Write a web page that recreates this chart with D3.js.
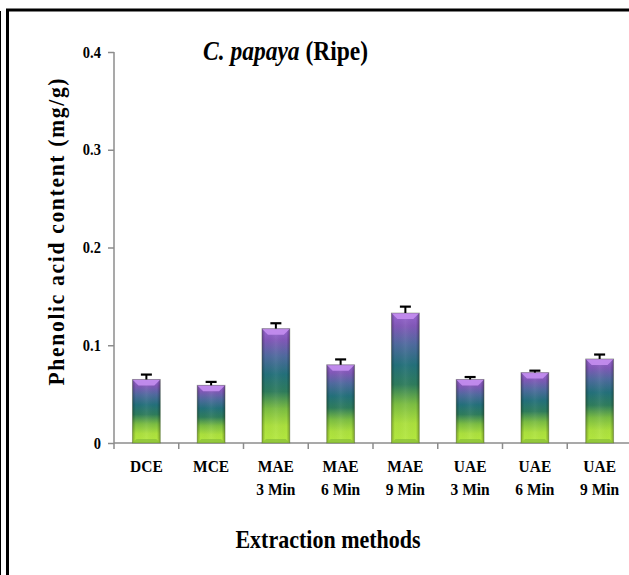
<!DOCTYPE html>
<html>
<head>
<meta charset="utf-8">
<script src="https://cdn.jsdelivr.net/npm/d3@7"></script>
<style>
  html, body { margin: 0; padding: 0; background: #fff; }
  svg { display: block; }
  text { font-family: "Liberation Serif", Tinos, "Times New Roman", Times, serif; font-weight: bold; fill: #000; }
</style>
</head>
<body>
<script>
// ---- data ----
const categories = ["DCE", "MCE", "MAE 3 Min", "MAE 6 Min", "MAE 9 Min", "UAE 3 Min", "UAE 6 Min", "UAE 9 Min"];
const labelLine1 = ["DCE", "MCE", "MAE", "MAE", "MAE", "UAE", "UAE", "UAE"];
const labelLine2 = ["", "", "3 Min", "6 Min", "9 Min", "3 Min", "6 Min", "9 Min"];
const values = [0.065, 0.059, 0.117, 0.080, 0.133, 0.065, 0.072, 0.086];
const errors = [0.005, 0.0035, 0.0055, 0.0055, 0.0065, 0.0025, 0.002, 0.0045];
const yTicks = [0, 0.1, 0.2, 0.3, 0.4];
const yTickLabels = ["0", "0.1", "0.2", "0.3", "0.4"];

const W = 629, H = 575;
const SY = 1.13; // vertical stretch of the text seen in the reference
const svg = d3.select("body").append("svg").attr("width", W).attr("height", H);

// frame
svg.append("line").attr("x1", 0.5).attr("x2", 0.5).attr("y1", 11).attr("y2", H).attr("stroke", "#000").attr("stroke-width", 1);
svg.append("path").attr("d", `M7.5,${H} L7.5,10 L${W},10`).attr("fill", "none").attr("stroke", "#000").attr("stroke-width", 3);

const x = d3.scaleBand().domain(categories).range([114, 632]).padding(0);
const y = d3.scaleLinear().domain([0, 0.4]).range([443, 52]);

const defs = svg.append("defs");
const g1 = defs.append("linearGradient").attr("id", "barGrad").attr("x1", 0).attr("y1", 0).attr("x2", 0).attr("y2", 1);
[[0, "#9a66d2"], [0.1, "#8158b8"], [0.24, "#4f6a9e"], [0.4, "#23707a"], [0.55, "#2e7c5c"], [0.7, "#7bbd42"], [0.85, "#abe03d"], [1, "#b5ea3f"]]
  .forEach(([o, c]) => g1.append("stop").attr("offset", o).attr("stop-color", c));
const g2 = defs.append("linearGradient").attr("id", "sideGrad").attr("x1", 0).attr("y1", 0).attr("x2", 1).attr("y2", 0);
[[0, "#000", 0.28], [0.12, "#000", 0], [0.5, "#fff", 0.06], [0.88, "#000", 0], [1, "#000", 0.3]]
  .forEach(([o, c, a]) => g2.append("stop").attr("offset", o).attr("stop-color", c).attr("stop-opacity", a));

// axes
const yAxis = svg.append("g").attr("transform", "translate(114,0)")
  .call(d3.axisLeft(y).tickValues(yTicks).tickFormat((d, i) => yTickLabels[i]).tickSize(6).tickPadding(7));
yAxis.select(".domain").attr("stroke", "#8c8c8c").attr("stroke-width", 1.5).attr("d", `M0,${y(0.4)}V${y(0)}`);
yAxis.selectAll(".tick line").attr("stroke", "#8c8c8c").attr("stroke-width", 1.5);
yAxis.selectAll(".tick text")
  .style("font-size", "14.5px").attr("fill", "#000")
  .attr("dy", null).attr("y", 0)
  .attr("transform", `translate(-13,5) scale(1,${SY})`).attr("x", 0);

const xAxis = svg.append("g").attr("transform", "translate(0,443)");
xAxis.append("line").attr("x1", 114).attr("x2", W).attr("y1", 0).attr("y2", 0).attr("stroke", "#8c8c8c").attr("stroke-width", 1.5);
xAxis.selectAll("line.tk").data(categories).enter().append("line").attr("class", "tk")
  .attr("x1", d => x(d)).attr("x2", d => x(d)).attr("y1", 0).attr("y2", 6).attr("stroke", "#8c8c8c").attr("stroke-width", 1.5);

// bars
const bw = x.bandwidth() * 0.43;
const bars = svg.append("g").selectAll("g").data(categories).enter().append("g");
bars.each(function (d, i) {
  const gsel = d3.select(this);
  const cx = x(d) + x.bandwidth() / 2;
  const x0 = cx - bw / 2, x1 = cx + bw / 2, yt = y(values[i]), yb = y(0);
  gsel.append("rect").attr("x", x0).attr("y", yt).attr("width", bw).attr("height", yb - yt).attr("fill", "url(#barGrad)");
  gsel.append("rect").attr("x", x0).attr("y", yt).attr("width", bw).attr("height", yb - yt).attr("fill", "url(#sideGrad)");
  const bv = 6;
  gsel.append("path").attr("d", `M${x0},${yt} L${x1},${yt} L${x1 - bv},${yt + bv} L${x0 + bv},${yt + bv} Z`).attr("fill", "#c48ef0").attr("opacity", 0.9);
  gsel.append("path").attr("d", `M${x0},${yb} L${x1},${yb} L${x1 - 4},${yb - 4} L${x0 + 4},${yb - 4} Z`).attr("fill", "#8cc23a").attr("opacity", 0.8);
  gsel.append("rect").attr("x", x0).attr("y", yt).attr("width", bw).attr("height", yb - yt).attr("fill", "none").attr("stroke", "rgba(60,80,40,0.35)").attr("stroke-width", 1);
  // error bar
  const ye = y(values[i] + errors[i]);
  gsel.append("line").attr("x1", cx).attr("x2", cx).attr("y1", yt).attr("y2", ye).attr("stroke", "#000").attr("stroke-width", 2);
  gsel.append("line").attr("x1", cx - 5.5).attr("x2", cx + 5.5).attr("y1", ye).attr("y2", ye).attr("stroke", "#000").attr("stroke-width", 2.2);
});

// category labels
const labG = svg.append("g").selectAll("g").data(categories).enter().append("g")
  .attr("transform", d => `translate(${x(d) + x.bandwidth() / 2},0)`);
labG.append("text").attr("text-anchor", "middle").style("font-size", "15.5px")
  .attr("transform", `translate(0,472) scale(1,${SY})`).text((d, i) => labelLine1[i]);
labG.append("text").attr("text-anchor", "middle").style("font-size", "15.5px")
  .attr("transform", `translate(0,495) scale(1,${SY})`).text((d, i) => labelLine2[i]);

// axis titles
svg.append("text").attr("transform", `translate(328,548) scale(1,${SY})`).attr("text-anchor", "middle")
  .style("font-size", "22px").text("Extraction methods");
svg.append("text").attr("transform", `translate(64,232) rotate(-90) scale(1.0,1.1)`).attr("text-anchor", "middle")
  .attr("textLength", 307).attr("lengthAdjust", "spacing").style("font-size", "21.5px").text("Phenolic acid content (mg/g)");

// chart title
const t = svg.append("text").attr("transform", `translate(203,60) scale(1,${SY})`).style("font-size", "23.5px");
t.append("tspan").style("font-style", "italic").text("C. papaya");
t.append("tspan").text(" (Ripe)");
</script>
</body>
</html>
